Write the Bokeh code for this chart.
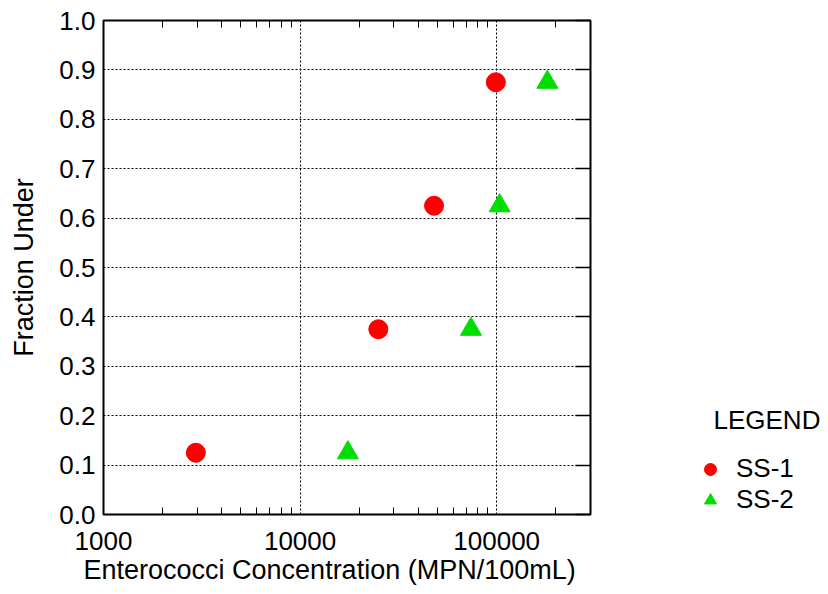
from bokeh.plotting import figure
from bokeh.layouts import row
from bokeh.models import (LogAxis, LinearAxis, FixedTicker, PrintfTickFormatter,
                          Legend, LegendItem, Title, Label, Range1d)
from bokeh.embed import file_html
from bokeh.resources import INLINE

# ---- data ----
ss1_conc = [2950, 25000, 48000, 99000]
ss1_frac = [0.125, 0.375, 0.625, 0.875]
ss2_conc = [17500, 74000, 103500, 181000]
ss2_frac = [0.125, 0.375, 0.625, 0.875]
series_names = ["SS-1", "SS-2"]
x_major = [1000, 10000, 100000]
x_minor = [2000, 3000, 4000, 5000, 6000, 7000, 8000, 9000,
           20000, 30000, 40000, 50000, 60000, 70000, 80000, 90000,
           200000, 300000]
y_ticks = [0.0, 0.1, 0.2, 0.3, 0.4, 0.5, 0.6, 0.7, 0.8, 0.9, 1.0]
x_title = "Enterococci Concentration (MPN/100mL)"
y_title = "Fraction Under"
legend_title = "LEGEND"

FONT = "Liberation Sans"
FS = "26px"
RED = "#FF0000"
GREEN = "#00DD00"
W1, W2, H = 592, 236, 594

p = figure(width=W1, height=H, x_axis_type="log", x_range=(1000, 300000), y_range=(0, 1),
           output_backend="svg", toolbar_location=None,
           min_border_left=103, min_border_right=2, min_border_top=20, min_border_bottom=80)
p.outline_line_color = "black"
p.outline_line_width = 2
p.background_fill_color = "white"
p.border_fill_color = "white"

xt = FixedTicker(ticks=x_major, minor_ticks=x_minor)
yt = FixedTicker(ticks=y_ticks)

xa = p.xaxis[0]
xa.ticker = xt
xa.formatter = PrintfTickFormatter(format="%d")
xa.major_tick_in = 0
xa.major_tick_out = 0
xa.minor_tick_in = 7
xa.minor_tick_out = 0
xa.minor_tick_line_color = "black"
xa.axis_line_color = None
xa.major_label_standoff = 17
xa.major_label_text_font = FONT
xa.major_label_text_font_size = FS
xa.major_label_text_color = "black"

ya = p.yaxis[0]
ya.ticker = yt
ya.formatter = PrintfTickFormatter(format="%.1f")
ya.major_tick_in = 0
ya.major_tick_out = 0
ya.minor_tick_in = 0
ya.minor_tick_out = 0
ya.axis_line_color = None
ya.major_label_standoff = 8
ya.major_label_text_font = FONT
ya.major_label_text_font_size = FS
ya.major_label_text_color = "black"
ya.axis_label = y_title
ya.axis_label_text_font = FONT
ya.axis_label_text_font_size = "27px"
ya.axis_label_text_font_style = "normal"
ya.axis_label_text_color = "black"
ya.axis_label_standoff = 17

top = LogAxis(ticker=FixedTicker(ticks=x_major, minor_ticks=x_minor),
              major_label_text_font_size="1px", major_label_text_alpha=0,
              major_tick_in=0, major_tick_out=0,
              minor_tick_in=7, minor_tick_out=0, axis_line_color=None,
              minor_tick_line_color="black", major_label_standoff=0)
p.add_layout(top, "above")
right = LinearAxis(ticker=FixedTicker(ticks=y_ticks),
                   major_label_text_font_size="1px", major_label_text_alpha=0,
                   major_tick_in=15, major_tick_out=0, minor_tick_in=0, minor_tick_out=0,
                   axis_line_color=None, major_tick_line_width=1.5,
                   major_tick_line_color="black", major_label_standoff=0)
p.add_layout(right, "right")

p.xgrid.ticker = xt
p.ygrid.ticker = yt
for g in (p.xgrid, p.ygrid):
    g.grid_line_color = "black"
    g.grid_line_dash = "2 2"
    g.grid_line_width = 1

p.scatter(ss1_conc, ss1_frac, marker="circle", size=19, color=RED)
p.scatter(ss2_conc, ss2_frac, marker="triangle", size=21, color=GREEN)

p.add_layout(Title(text=x_title, align="left", offset=-20, standoff=0,
                   text_font=FONT, text_font_size="27px", text_font_style="normal",
                   text_color="black"), "below")

# ---- legend panel (separate figure to the right; its ranges keep the data out of view) ----
q = figure(width=W2, height=H, x_range=Range1d(0, 1), y_range=Range1d(0, 1),
           output_backend="svg", toolbar_location=None,
           x_axis_location=None, y_axis_location=None,
           min_border_left=0, min_border_right=0, min_border_top=0, min_border_bottom=0)
q.outline_line_color = None
q.xgrid.visible = False
q.ygrid.visible = False
q.background_fill_color = "white"
q.border_fill_color = "white"

k1 = q.scatter(ss1_conc, ss1_frac, marker="circle", size=19, color=RED)
k2 = q.scatter(ss2_conc, ss2_frac, marker="triangle", size=21, color=GREEN)
legend = Legend(items=[LegendItem(label=series_names[0], renderers=[k1]),
                       LegendItem(label=series_names[1], renderers=[k2])],
                location=(103, -1), glyph_width=30, glyph_height=30,
                label_standoff=11, spacing=0, padding=10, margin=0,
                border_line_color=None, background_fill_alpha=0,
                label_text_font=FONT, label_text_font_size=FS, label_text_color="black")
q.add_layout(legend)
q.add_layout(Label(x=121, y=95, x_units="screen", y_units="screen", text=legend_title,
                   text_font=FONT, text_font_size=FS, text_color="black",
                   text_baseline="alphabetic", text_align="left"))

open("out.html", "w").write(file_html(row(p, q), INLINE))
